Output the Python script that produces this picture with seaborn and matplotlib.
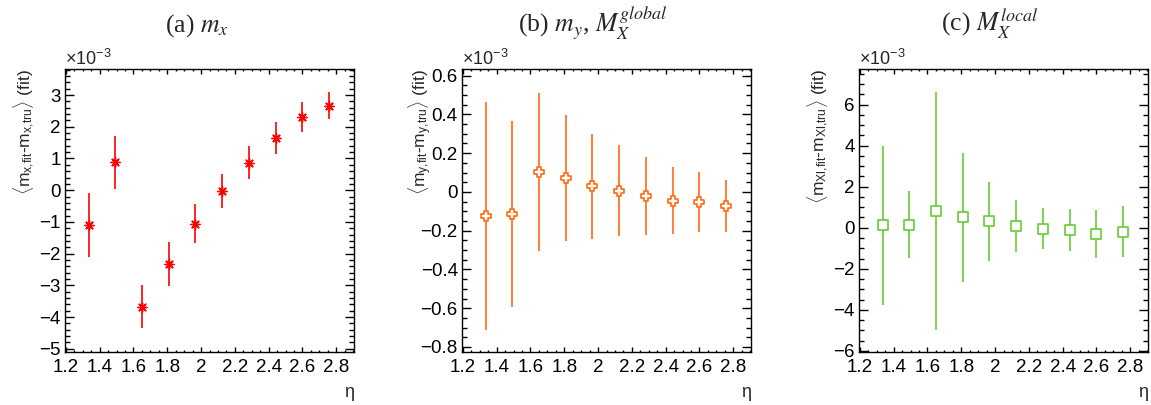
import numpy as np
import pandas as pd
import matplotlib
matplotlib.use("Agg")
import matplotlib.pyplot as plt
from matplotlib.ticker import MultipleLocator
import seaborn as sns

# ---------------- data (values in units of 1e-3) ----------------
eta = [1.335, 1.493, 1.651, 1.809, 1.967, 2.125, 2.283, 2.441, 2.599, 2.757]

mx_val = [-1.09, 0.88, -3.67, -2.33, -1.06, -0.02, 0.86, 1.64, 2.30, 2.66]
mx_err = [1.00, 0.84, 0.67, 0.70, 0.62, 0.54, 0.52, 0.50, 0.48, 0.43]

my_val = [-0.124, -0.114, 0.103, 0.074, 0.028, 0.007, -0.021, -0.045, -0.052, -0.071]
my_err = [0.587, 0.482, 0.406, 0.325, 0.270, 0.237, 0.200, 0.172, 0.154, 0.134]

mxl_val = [0.11, 0.14, 0.81, 0.50, 0.32, 0.09, -0.04, -0.10, -0.31, -0.19]
mxl_err = [3.85, 1.63, 5.79, 3.13, 1.92, 1.25, 1.00, 1.01, 1.18, 1.24]

titles = [r"(a) $m_x$", r"(b) $m_y$, $M_X^{global}$", r"(c) $M_X^{local}$"]
ylabels = [
    r"$\langle$m$_{\mathregular{x{,}fit}}$-m$_{\mathregular{x{,}tru}}$$\rangle$ (fit)",
    r"$\langle$m$_{\mathregular{y{,}fit}}$-m$_{\mathregular{y{,}tru}}$$\rangle$ (fit)",
    r"$\langle$m$_{\mathregular{Xl{,}fit}}$-m$_{\mathregular{Xl{,}tru}}$$\rangle$ (fit)",
]
xlabel = "η"
scale_label = r"$\times$10$^{\mathregular{-3}}$"

# ---------------- style ----------------
sns.set_theme(style="ticks")
plt.rcParams["font.family"] = ["Liberation Sans", "DejaVu Sans"]
plt.rcParams["mathtext.fontset"] = "custom"
plt.rcParams["mathtext.rm"] = "Liberation Sans"
plt.rcParams["mathtext.it"] = "Liberation Sans"
plt.rcParams["mathtext.bf"] = "Liberation Sans:bold"
plt.rcParams["axes.linewidth"] = 1.0

fig = plt.figure(figsize=(11.51, 4.05), dpi=100)
W, H = 1151, 405
lefts = [65, 462, 859]
ax_w = 289
ax_top, ax_bot = 69, 352

panels = [
    dict(val=mx_val, err=mx_err, color="#ff0000", marker=(8, 2, 0), face="#ff0000",
         s=45, lw=1.0, ylim=(-5.1, 3.82), major=1, minor=0.2),
    dict(val=my_val, err=my_err, color="#ff6a10", marker="P", face="white",
         s=55, lw=1.2, ylim=(-0.826, 0.634), major=0.2, minor=0.05),
    dict(val=mxl_val, err=mxl_err, color="#66cc33", marker="s", face="white",
         s=55, lw=1.2, ylim=(-6.05, 7.73), major=2, minor=0.5),
]
title_x = [197, 593, 990]


def xfmt(v, _):
    if abs(v - round(v)) < 1e-9:
        return f"{int(round(v))}"
    return f"{v:.1f}"


def yfmt_dec(v, _):
    if abs(v) < 1e-9:
        return "0"
    return f"{v:.1f}".replace("-", "\u2212")


def yfmt_int(v, _):
    return f"{int(round(v))}".replace("-", "\u2212")


for i, p in enumerate(panels):
    ax = fig.add_axes([lefts[i] / W, 1 - ax_bot / H, ax_w / W, (ax_bot - ax_top) / H])
    df = pd.DataFrame({"eta": eta, "val": p["val"], "err": p["err"]})
    ax.errorbar(df["eta"], df["val"], yerr=df["err"], fmt="none",
                ecolor=p["color"], elinewidth=1.2, capsize=0, zorder=2)
    if p["face"] == "white":
        sns.scatterplot(data=df, x="eta", y="val", marker=p["marker"], s=p["s"],
                        facecolor="white", edgecolor=p["color"], linewidth=p["lw"],
                        ax=ax, zorder=3)
    else:
        sns.scatterplot(data=df, x="eta", y="val", marker=p["marker"], s=p["s"],
                        color=p["color"], linewidth=p["lw"], ax=ax, zorder=3)

    ax.set_xlim(1.195, 2.905)
    ax.set_ylim(*p["ylim"])
    ax.xaxis.set_major_locator(MultipleLocator(0.2))
    ax.xaxis.set_minor_locator(MultipleLocator(0.05))
    ax.yaxis.set_major_locator(MultipleLocator(p["major"]))
    ax.yaxis.set_minor_locator(MultipleLocator(p["minor"]))
    ax.xaxis.set_major_formatter(plt.FuncFormatter(xfmt))
    ax.yaxis.set_major_formatter(plt.FuncFormatter(yfmt_dec if p["major"] < 1 else yfmt_int))

    ax.tick_params(axis="both", which="both", direction="in", top=True, right=True,
                   labelsize=13.5, colors="black", width=1.0)
    ax.tick_params(axis="x", which="major", length=3.3, pad=5)
    ax.tick_params(axis="x", which="minor", length=1.7)
    ax.tick_params(axis="y", which="major", length=6.5, pad=3)
    ax.tick_params(axis="y", which="minor", length=3.6)
    for sp in ax.spines.values():
        sp.set_color("black")
        sp.set_linewidth(1.0)

    ax.set_xlabel(xlabel, loc="right", fontsize=13, labelpad=6)
    ax.set_ylabel(ylabels[i], loc="top", fontsize=12.5)
    ax.yaxis.set_label_coords(-28 / ax_w, 1.0)
    ax.text(0.0, 1.0, scale_label, transform=ax.transAxes, ha="left", va="bottom",
            fontsize=13)
    fig.text(title_x[i] / W, 1 - 32 / H, titles[i], ha="center", va="baseline",
             fontsize=18.5, family="Liberation Serif", math_fontfamily="stix")

fig.savefig("out.png", dpi=100)
